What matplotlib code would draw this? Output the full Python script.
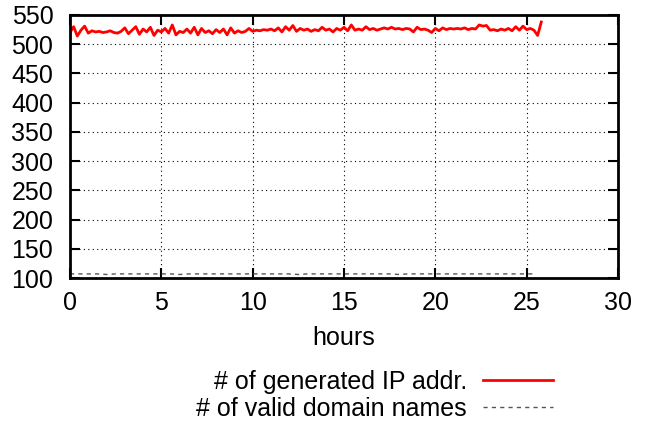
import numpy as np
import matplotlib
matplotlib.use('Agg')
import matplotlib.pyplot as plt

plt.rcParams['font.family'] = ['Liberation Sans', 'DejaVu Sans']

# generated IP addresses, one sample every 0.2 hours
ip_vals = [
    520, 530, 514, 524, 531, 519, 523, 521, 522, 520,
    521, 523, 520, 519, 522, 528, 518, 524, 530, 517,
    526, 521, 529, 515, 524, 521, 527, 519, 533, 516,
    522, 520, 526, 519, 529, 516, 527, 520, 523, 518,
    525, 520, 526, 516, 528, 519, 523, 520, 522, 527,
    522, 524, 523, 525, 524, 526, 523, 528, 521, 530,
    524, 532, 522, 527, 524, 526, 522, 525, 523, 529,
    524, 526, 521, 527, 524, 529, 523, 533, 524, 526,
    524, 530, 525, 527, 524, 526, 528, 526, 529, 526,
    527, 525, 527, 526, 521, 529, 525, 526, 524, 520,
    527, 523, 528, 525, 527, 526, 527, 526, 528, 525,
    527, 526, 533, 531, 532, 524, 525, 523, 526, 524,
    527, 523, 530, 524, 531, 525, 527, 524, 515, 538,
]
ip_hours = np.arange(len(ip_vals)) * 0.2

# valid domain names, one sample every 0.5 hours
dom_vals = [
    107, 107, 107, 107, 106, 107, 107, 107, 107, 107,
    107, 107, 106, 107, 107, 107, 107, 107, 107, 107,
    107, 107, 107, 107, 107, 106, 107, 107, 107, 107,
    107, 107, 107, 107, 107, 107, 106, 107, 107, 107,
    107, 107, 107, 107, 107, 107, 107, 107, 107, 107,
    107, 107,
]
dom_hours = np.arange(len(dom_vals)) * 0.5

fig = plt.figure(figsize=(6.5, 4.26), dpi=100)
ax = fig.add_axes([70 / 650, 1 - 278 / 426, 548 / 650, 263 / 426])

l1, = ax.plot(ip_hours, ip_vals, color='#ff0000', lw=2.0,
              label='# of generated IP addr.')
l2, = ax.plot(dom_hours, dom_vals, color='#555555', lw=1.0,
              dashes=(3, 3), label='# of valid domain names')

ax.set_xlim(0, 30)
ax.set_ylim(100, 550)
ax.set_xticks(range(0, 31, 5))
ax.set_yticks(range(100, 551, 50))
ax.grid(True, color='black', linestyle=(0, (1, 3)), lw=0.8)
ax.tick_params(direction='in', length=7, width=1.5, labelsize=18,
               top=True, right=True, pad=9)
ax.tick_params(axis='y', pad=12)
for s in ax.spines.values():
    s.set_linewidth(2)
ax.set_xlabel('hours', fontsize=18, labelpad=8)

fig.legend(handles=[l1, l2], loc='upper right',
           bbox_to_anchor=(553 / 650, 1 - 370 / 426),
           frameon=False, markerfirst=False, fontsize=18,
           handlelength=2.8, labelspacing=0.12, handletextpad=0.65,
           borderaxespad=0, borderpad=0)

fig.savefig('out.png', dpi=100)
